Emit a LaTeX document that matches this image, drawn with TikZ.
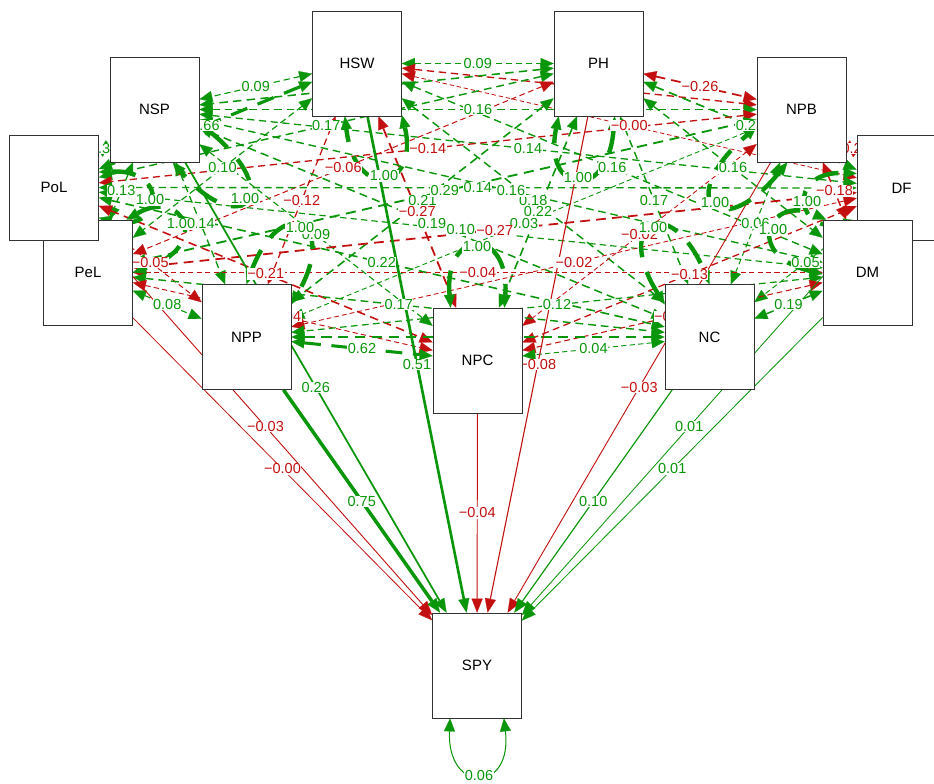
\documentclass[tikz,border=0pt]{standalone}
\usepackage{fontspec}
\setmainfont{Liberation Sans}
\usetikzlibrary{arrows.meta,calc}
\pgfdeclarelayer{edgelayer}
\pgfdeclarelayer{nodelayer}
\pgfsetlayers{edgelayer,main,nodelayer}
\definecolor{pos}{RGB}{10,150,10}
\definecolor{neg}{RGB}{195,15,15}
\tikzset{
  box/.style={draw=black!80, line width=0.7pt, fill=white, minimum width=89pt,
    minimum height=105pt, inner sep=0pt, font=\fontsize{15}{18}\selectfont},
  lbl/.style={fill=white, inner sep=0.5pt, font=\fontsize{14.5}{16}\selectfont},
  regst/.style={arrows={-Triangle[length=14pt,width=11pt,line width=0.2pt]}},
  covst/.style={arrows={Triangle[length=13pt,width=11pt,line width=0.2pt]-Triangle[length=13pt,width=11pt,line width=0.2pt]}},
}
% covariance: node, node, colour, |value|, label
\newcommand\cov[5]{%
  \pgfmathsetmacro\ew{0.8+3.6*#4}%
  \pgfmathsetmacro\don{5.5*\ew}%
  \pgfmathsetmacro\doff{3.5*\ew}%
  \begin{pgfonlayer}{edgelayer}
    \draw[covst,color=#3,line width=\ew pt,dash pattern=on \don pt off \doff pt] (#1) -- (#2);
  \end{pgfonlayer}
  \if\relax\detokenize{#5}\relax\else\node[lbl,text=#3] at ($(#1)!.5!(#2)$) {#5};\fi
}
% regression into SPY: node, colour, |value|, label
\newcommand\reg[4]{%
  \pgfmathsetmacro\ew{0.8+3.6*#3}%
  \begin{pgfonlayer}{edgelayer}
    \draw[regst,color=#2,line width=\ew pt] (#1) -- (SPY);
  \end{pgfonlayer}
  \node[lbl,text=#2] at ($(#1)!.5!(SPY)$) {#4};
}
% variance loop: node, angle, label x, label y, label, colour, |value|, dashed(1/0)
\newcommand\vloop[8]{%
  \pgfmathsetmacro\anA{#2+27}%
  \pgfmathsetmacro\anB{#2-27}%
  \pgfmathsetmacro\pnA{#2+90}%
  \pgfmathsetmacro\pnB{#2-90}%
  \pgfmathsetmacro\ew{0.8+3.6*#7}%
  \pgfmathsetmacro\don{5.5*\ew}%
  \pgfmathsetmacro\doff{3.5*\ew}%
  \coordinate (lp) at (#3,-#4);
  \coordinate (lm) at ($(#1.\anA)!.5!(#1.\anB)$);
  \coordinate (lq) at ($(lm)!1.3333!(lp)$);
  \coordinate (lc1) at ($(lq)+(\pnA:33)$);
  \coordinate (lc2) at ($(lq)+(\pnB:33)$);
  \begin{pgfonlayer}{edgelayer}
    \ifnum#8=1
      \draw[covst,color=#6,line width=\ew pt,dash pattern=on \don pt off \doff pt] (#1.\anA) .. controls (lc1) and (lc2) .. (#1.\anB);
    \else
      \draw[covst,color=#6,line width=\ew pt] (#1.\anA) .. controls (lc1) and (lc2) .. (#1.\anB);
    \fi
  \end{pgfonlayer}
  \node[lbl,text=#6] at (lp) {#5};
}
\begin{document}
\begin{tikzpicture}[x=1pt,y=1pt]
\useasboundingbox (0,0) rectangle (934,-784);
\begin{pgfonlayer}{edgelayer}
  \fill[white] (0,0) rectangle (934,-784);
\end{pgfonlayer}
\begin{pgfonlayer}{nodelayer}
  \node[box] (DF)  at (901.5,-188)   {DF};
  \node[box] (PeL) at (88,-272.5)    {PeL};
  \node[box] (PoL) at (54,-187.5)    {PoL};
  \node[box] (DM)  at (867.5,-272.5) {DM};
  \node[box] (HSW) at (357,-63.5)    {HSW};
  \node[box] (PH)  at (598.5,-63.5)  {PH};
  \node[box] (NSP) at (154.5,-109.5) {NSP};
  \node[box] (NPB) at (801.5,-109.5) {NPB};
  \node[box] (NPP) at (246.5,-337)   {NPP};
  \node[box] (NC)  at (709.5,-337)   {NC};
  \node[box] (NPC) at (477.5,-360.5) {NPC};
  \node[box] (SPY) at (477,-665.5)   {SPY};
\end{pgfonlayer}
% covariances
\cov{HSW}{PH}{pos}{0.09}{0.09}
\cov{HSW}{NSP}{pos}{0.09}{0.09}
\cov{HSW}{NPB}{neg}{0.15}{}
\cov{HSW}{PoL}{pos}{0.66}{0.66}
\cov{HSW}{DF}{neg}{0.00}{−0.00}
\cov{HSW}{PeL}{pos}{0.10}{0.10}
\cov{HSW}{DM}{pos}{0.16}{0.16}
\cov{HSW}{NPP}{neg}{0.12}{−0.12}
\cov{HSW}{NC}{pos}{0.18}{0.18}
\cov{HSW}{NPC}{neg}{0.27}{−0.27}
\cov{PH}{NSP}{pos}{0.20}{}
\cov{PH}{NPB}{neg}{0.26}{−0.26}
\cov{PH}{PoL}{pos}{0.17}{0.17}
\cov{PH}{DF}{pos}{0.23}{0.23}
\cov{PH}{PeL}{neg}{0.06}{−0.06}
\cov{PH}{DM}{pos}{0.16}{0.16}
\cov{PH}{NPP}{pos}{0.21}{0.21}
\cov{PH}{NC}{pos}{0.17}{0.17}
\cov{PH}{NPC}{pos}{0.22}{0.22}
\cov{NSP}{NPB}{pos}{0.16}{0.16}
\cov{NSP}{PoL}{pos}{0.33}{0.33}
\cov{NSP}{DF}{pos}{0.14}{0.14}
\cov{NSP}{PeL}{pos}{0.13}{0.13}
\cov{NSP}{DM}{pos}{0.16}{0.16}
\cov{NSP}{NPP}{pos}{0.14}{0.14}
\cov{NSP}{NC}{pos}{0.19}{0.19}
\cov{NSP}{NPC}{pos}{0.09}{0.09}
\cov{NPB}{PoL}{neg}{0.14}{−0.14}
\cov{NPB}{DF}{neg}{0.23}{−0.23}
\cov{NPB}{PeL}{pos}{0.29}{0.29}
\cov{NPB}{DM}{neg}{0.18}{−0.18}
\cov{NPB}{NPP}{pos}{0.03}{0.03}
\cov{NPB}{NC}{pos}{0.06}{0.06}
\cov{NPB}{NPC}{neg}{0.02}{−0.02}
\cov{PoL}{DF}{pos}{0.14}{0.14}
\cov{PoL}{PeL}{neg}{0.30}{}
\cov{PoL}{DM}{pos}{0.10}{0.10}
\cov{PoL}{NPP}{neg}{0.05}{−0.05}
\cov{PoL}{NC}{pos}{0.22}{0.22}
\cov{PoL}{NPC}{neg}{0.21}{−0.21}
\cov{DF}{PeL}{neg}{0.27}{−0.27}
\cov{DF}{DM}{neg}{0.30}{}
\cov{DF}{NPP}{neg}{0.02}{−0.02}
\cov{DF}{NC}{pos}{0.05}{0.05}
\cov{DF}{NPC}{neg}{0.13}{−0.13}
\cov{PeL}{DM}{neg}{0.04}{−0.04}
\cov{PeL}{NPP}{pos}{0.08}{0.08}
\cov{PeL}{NC}{pos}{0.17}{0.17}
\cov{PeL}{NPC}{neg}{0.04}{−0.04}
\cov{DM}{NPP}{pos}{0.12}{0.12}
\cov{DM}{NC}{pos}{0.19}{0.19}
\cov{DM}{NPC}{neg}{0.07}{−0.07}
\cov{NPP}{NC}{pos}{0.30}{}
\cov{NPP}{NPC}{pos}{0.62}{0.62}
\cov{NC}{NPC}{pos}{0.04}{0.04}
% regressions
\reg{PeL}{neg}{0.00}{−0.00}
\reg{PoL}{neg}{0.03}{−0.03}
\reg{NSP}{pos}{0.26}{0.26}
\reg{NPP}{pos}{0.75}{0.75}
\reg{HSW}{pos}{0.51}{0.51}
\reg{NPC}{neg}{0.04}{−0.04}
\reg{PH}{neg}{0.08}{−0.08}
\reg{NPB}{neg}{0.03}{−0.03}
\reg{NC}{pos}{0.10}{0.10}
\reg{DF}{pos}{0.01}{0.01}
\reg{DM}{pos}{0.01}{0.01}
% variances
\vloop{HSW}{-76.6}{384}{176}{1.00}{pos}{1}{1}
\vloop{PH}{-100.3}{578}{178}{1.00}{pos}{1}{1}
\vloop{NSP}{-44.4}{245}{199}{1.00}{pos}{1}{1}
\vloop{NPB}{-132.8}{715}{203}{1.00}{pos}{1}{1}
\vloop{PoL}{-7.1}{150}{200}{1.00}{pos}{1}{1}
\vloop{DF}{-171.5}{807}{202}{1.00}{pos}{1}{1}
\vloop{PeL}{27.3}{181}{224}{1.00}{pos}{1}{1}
\vloop{DM}{155.9}{773}{230}{1.00}{pos}{1}{1}
\vloop{NPP}{63.6}{300}{228}{1.00}{pos}{1}{1}
\vloop{NC}{117.2}{653}{228}{1.00}{pos}{1}{1}
\vloop{NPC}{90}{477}{247}{1.00}{pos}{1}{1}
\vloop{SPY}{-90}{479}{775}{0.06}{pos}{0.06}{0}
\end{tikzpicture}
\end{document}
